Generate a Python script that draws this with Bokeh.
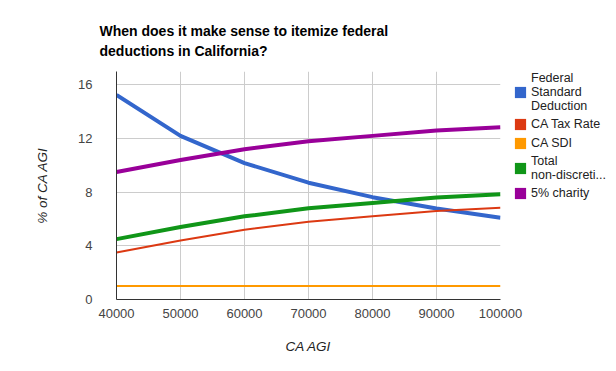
from bokeh.plotting import figure
from bokeh.models import Legend, LegendItem, SingleIntervalTicker, NumeralTickFormatter, Range1d, FixedTicker
from bokeh.embed import file_html
from bokeh.resources import INLINE

agi = [40000, 50000, 60000, 70000, 80000, 90000, 100000]
federal_std = [15.25, 12.2, 10.17, 8.71, 7.63, 6.78, 6.1]
ca_tax_rate = [3.5, 4.4, 5.2, 5.8, 6.2, 6.6, 6.85]
ca_sdi = [1.0, 1.0, 1.0, 1.0, 1.0, 1.0, 1.0]
total_nondisc = [4.5, 5.4, 6.2, 6.8, 7.2, 7.6, 7.85]
charity = [9.5, 10.4, 11.2, 11.8, 12.2, 12.6, 12.85]
y_ticks = [0, 4, 8, 12, 16]

series = [
    ("Federal\nStandard\nDeduction", federal_std, "#3366cc", 4),
    ("CA Tax Rate", ca_tax_rate, "#dc3912", 2),
    ("CA SDI", ca_sdi, "#ff9900", 2),
    ("Total\nnon-discreti...", total_nondisc, "#109618", 4),
    ("5% charity", charity, "#990099", 4),
]

FONT = "Liberation Sans"
NAN = float("nan")

p = figure(frame_width=384, frame_height=228, output_backend="svg", toolbar_location=None,
           x_range=Range1d(40000, 100000), y_range=Range1d(0, 17),
           min_border_left=116, min_border_right=116, min_border_top=71, min_border_bottom=72)
p.outline_line_color = None

p.title.text = "When does it make sense to itemize federal\ndeductions in California?"
p.title.text_font = FONT
p.title.text_font_size = "14px"
p.title.text_font_style = "bold"
p.title.text_color = "#000000"
p.title.text_line_height = 1.25
p.title.align = "left"
p.title.offset = -17
p.title.standoff = 25

items = []
for name, vals, color, w in series:
    p.line(agi, vals, line_color=color, line_width=w)
    # legend swatch only (no visible mark in the plot)
    swatch = p.quad(left=[NAN], right=[NAN], top=[NAN], bottom=[NAN],
                    fill_color=color, line_color=None)
    items.append(LegendItem(label=name, renderers=[swatch]))

legend = Legend(items=items, location=(13, 98), orientation="vertical",
                margin=0, padding=0, spacing=3, border_line_color=None,
                background_fill_alpha=0,
                glyph_width=14, glyph_height=14, label_height=16, label_standoff=4,
                label_text_font=FONT, label_text_font_size="12.5px",
                label_text_color="#222222", label_text_line_height=1.3)
p.add_layout(legend, "right")

p.xaxis.ticker = SingleIntervalTicker(interval=10000)
p.yaxis.ticker = FixedTicker(ticks=y_ticks)
p.xaxis.formatter = NumeralTickFormatter(format="0")
for ax in (p.xaxis[0], p.yaxis[0]):
    ax.major_tick_line_color = None
    ax.minor_tick_line_color = None
    ax.axis_line_color = "#333333"
    ax.axis_line_width = 1
    ax.major_label_text_font = FONT
    ax.major_label_text_font_size = "13px"
    ax.major_label_text_color = "#444444"
    ax.axis_label_text_font = FONT
    ax.axis_label_text_font_size = "13.5px"
    ax.axis_label_text_font_style = "italic"
    ax.axis_label_text_color = "#222222"
p.xaxis.axis_label = "CA AGI"
p.yaxis.axis_label = "% of CA AGI"
p.xaxis.major_label_standoff = 3
p.xaxis.axis_label_standoff = 18
p.yaxis.major_label_standoff = 18
p.yaxis.axis_label_standoff = 25

p.xgrid.grid_line_color = "#cccccc"
p.ygrid.grid_line_color = "#cccccc"

open("out.html", "w").write(file_html(p, INLINE))
